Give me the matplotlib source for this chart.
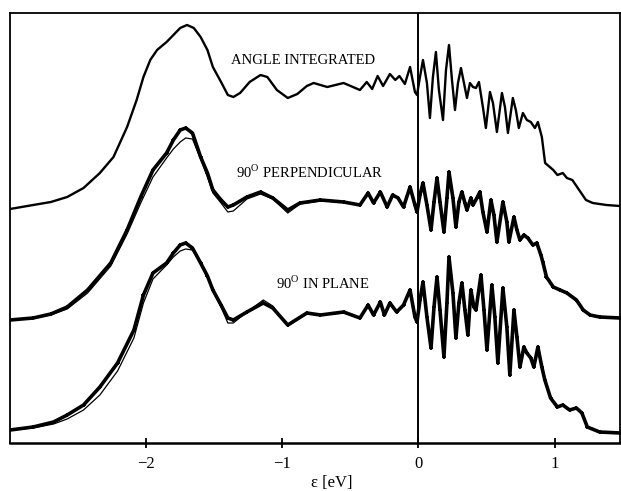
import matplotlib
matplotlib.use("Agg")
import matplotlib.pyplot as plt

plt.rcParams['font.family'] = ['Liberation Serif', 'DejaVu Serif']
plt.rcParams['mathtext.fontset'] = 'custom'
plt.rcParams['mathtext.rm'] = 'Liberation Serif'

# ---- data (energy in eV, intensity in arbitrary units) ----
top_x = [-3.00, -2.83, -2.70, -2.58, -2.46, -2.34, -2.24, -2.14, -2.07, -2.02, -1.97, -1.92, -1.85,
         -1.80, -1.75, -1.70, -1.65, -1.60, -1.55, -1.51, -1.45, -1.40, -1.36, -1.31, -1.24, -1.16,
         -1.11, -1.04, -0.96, -0.89, -0.82, -0.77, -0.67, -0.55, -0.43, -0.38, -0.34, -0.30, -0.26,
         -0.21, -0.17, -0.14, -0.10, -0.062, -0.026, -0.011, 0.011, 0.033, 0.062, 0.084, 0.106,
         0.128, 0.150, 0.180, 0.202, 0.224, 0.246, 0.268, 0.290, 0.312, 0.334, 0.356, 0.378, 0.400,
         0.422, 0.444, 0.473, 0.495, 0.525, 0.547, 0.576, 0.613, 0.635, 0.657, 0.693, 0.715, 0.737,
         0.767, 0.796, 0.825, 0.855, 0.877, 0.906, 0.93, 0.99, 1.02, 1.06, 1.09, 1.13, 1.18, 1.23,
         1.28, 1.38, 1.48]
top_y = [234, 238, 241, 246, 255, 270, 286, 316, 343, 366, 383, 393, 401,
         408, 415, 418, 415, 406, 393, 376, 361, 348, 346, 350, 361, 368,
         366, 353, 345, 349, 357, 360, 356, 360, 353, 361, 354, 367, 357,
         369, 363, 367, 359, 376, 351, 348, 366, 383, 360, 325, 366,
         391, 353, 323, 373, 398, 363, 333, 360, 375, 360, 345, 360, 356,
         355, 361, 336, 315, 351, 340, 311, 350, 336, 310, 345, 333, 315,
         330, 323, 321, 315, 321, 306, 280, 273, 268, 270, 265, 263, 253, 243,
         240, 238, 237]

perp_x = [-3.00, -2.83, -2.70, -2.58, -2.43, -2.26, -2.14, -2.04, -1.95, -1.85, -1.80, -1.75, -1.71,
          -1.66, -1.60, -1.55, -1.51, -1.45, -1.40, -1.36, -1.26, -1.16, -1.07, -0.96, -0.87, -0.72,
          -0.55, -0.43, -0.37, -0.33, -0.28, -0.23, -0.19, -0.15, -0.11, -0.062, -0.026, -0.011,
          0.011, 0.033, 0.062, 0.092, 0.114, 0.136, 0.158, 0.187, 0.209, 0.224, 0.253, 0.275, 0.297,
          0.319, 0.341, 0.356, 0.385, 0.400, 0.429, 0.451, 0.473, 0.503, 0.532, 0.554, 0.576, 0.620,
          0.649, 0.664, 0.701, 0.723, 0.745, 0.774, 0.803, 0.840, 0.869, 0.899, 0.913, 0.94, 0.99,
          1.04, 1.09, 1.16, 1.21, 1.26, 1.33, 1.48]
perp_y = [123, 125, 129, 136, 153, 180, 213, 246, 273, 290, 303, 313, 315,
          310, 286, 270, 253, 243, 236, 238, 246, 251, 245, 233, 240, 243,
          241, 238, 250, 240, 251, 236, 248, 245, 236, 256, 238, 231,
          248, 260, 238, 213, 241, 265, 241, 211, 245, 271, 245, 216, 241,
          251, 240, 233, 245, 238, 245, 251, 231, 211, 243, 228, 201, 241,
          221, 201, 226, 213, 203, 208, 205, 198, 200, 188, 181, 166, 156,
          153, 150, 143, 133, 128, 126, 125]
perp_fit = [123, 125, 128, 134, 150, 177, 209, 240, 266, 285, 294, 301, 305,
            304, 284, 266, 250, 240, 231, 232, 244, 249, 244, 230, 239, 242,
            241, 238, 249, 240, 250, 237, 247, 245, 237, 255, 238, 232,
            247, 258, 238, 216, 241, 263, 241, 214, 245, 268, 245, 219, 241,
            250, 240, 234, 245, 238, 245, 250, 232, 214, 242, 228, 205, 240,
            221, 204, 225, 213, 205, 208, 205, 198, 200, 188, 181, 166, 156,
            153, 150, 143, 133, 128, 126, 125]

plane_x = [-3.00, -2.83, -2.68, -2.58, -2.46, -2.34, -2.21, -2.09, -2.02, -1.95, -1.85, -1.80, -1.75,
           -1.71, -1.66, -1.60, -1.55, -1.51, -1.45, -1.40, -1.36, -1.26, -1.14, -1.07, -0.96, -0.82,
           -0.72, -0.55, -0.43, -0.37, -0.33, -0.28, -0.25, -0.21, -0.16, -0.11, -0.062, -0.026,
           -0.011, 0.011, 0.033, 0.062, 0.092, 0.114, 0.136, 0.158, 0.187, 0.209, 0.224, 0.253, 0.275,
           0.297, 0.319, 0.341, 0.363, 0.385, 0.407, 0.422, 0.459, 0.481, 0.503, 0.539, 0.561, 0.583,
           0.620, 0.649, 0.671, 0.701, 0.723, 0.745, 0.774, 0.796, 0.825, 0.847, 0.877, 0.906, 0.928,
           0.97, 1.02, 1.06, 1.11, 1.16, 1.20, 1.24, 1.33, 1.48]
plane_y = [13, 16, 21, 28, 38, 56, 80, 113, 148, 170, 180, 190, 198,
           200, 195, 180, 167, 153, 138, 125, 123, 131, 140, 135, 118, 130,
           128, 131, 125, 138, 128, 141, 128, 140, 131, 138, 153, 126,
           121, 143, 161, 126, 95, 136, 166, 133, 86, 140, 186, 150, 105,
           140, 160, 133, 108, 153, 136, 133, 168, 133, 93, 158, 126, 80,
           155, 116, 68, 133, 106, 76, 96, 90, 85, 76, 96, 76, 63,
           45, 36, 38, 33, 35, 30, 16, 11, 10]
plane_fit = [13, 15, 19, 24, 33, 48, 72, 105, 140, 164, 178, 186, 192,
             194, 193, 181, 167, 152, 136, 120, 120, 131, 143, 137, 117, 129,
             128, 130, 125, 137, 128, 140, 129, 139, 131, 137, 152, 127,
             123, 142, 159, 127, 98, 136, 164, 134, 89, 140, 183, 150, 108,
             140, 158, 134, 110, 152, 136, 134, 166, 134, 96, 156, 127, 83,
             153, 117, 71, 131, 107, 79, 96, 90, 85, 77, 95, 76, 63,
             45, 36, 38, 33, 35, 30, 16, 11, 10]

labels = ["ANGLE INTEGRATED", "90$^{\\mathrm{O}}$ PERPENDICULAR", "90$^{\\mathrm{O}}$ IN PLANE"]
label_pos = [(-0.85, 383), (-0.80, 271), (-0.70, 160)]
xticks = [-2, -1, 0, 1]

# ---- figure ----
fig = plt.figure(figsize=(6.21, 4.91), dpi=100)
ax = fig.add_axes([10 / 621, 48 / 491, 610 / 621, 430 / 491])

ax.plot(top_x, top_y, color='black', lw=1.7, solid_joinstyle='round')

ax.plot(perp_x, perp_y, color='black', lw=2.6, marker='+', ms=3.5, mew=1.2,
        solid_joinstyle='round')
ax.plot(perp_x, perp_fit, color='black', lw=0.9)

ax.plot(plane_x, plane_y, color='black', lw=2.6, marker='+', ms=3.5, mew=1.2,
        solid_joinstyle='round')
ax.plot(plane_x, plane_fit, color='black', lw=0.9)

ax.axvline(0, color='black', lw=1.4)

for txt, (x, y) in zip(labels, label_pos):
    ax.text(x, y, txt, ha='center', va='center', fontsize=10.5)

ax.set_xlim(-3.0, 1.48)
ax.set_ylim(0, 430)
ax.set_xticks(xticks)
ax.set_xticklabels(["\u22122", "\u22121", "0", "1"])
ax.set_yticks([])
ax.tick_params(axis='x', direction='inout', length=7, width=1.3, labelsize=12, pad=6)
for s in ax.spines.values():
    s.set_linewidth(1.3)
ax.spines['bottom'].set_linewidth(1.8)
ax.set_xlabel("\u03b5 [eV]", fontsize=12, labelpad=1)
ax.xaxis.set_label_coords(0.527, -0.075)

fig.savefig("out.png", dpi=100)
